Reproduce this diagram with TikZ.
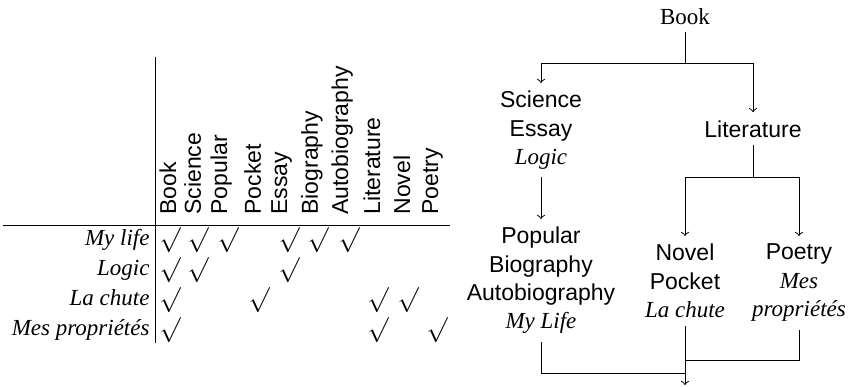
\documentclass[tikz,border=0pt]{standalone}
\usepackage{fontspec}
\setmainfont{Liberation Serif}
\setsansfont{Liberation Sans}
\begin{document}
\begin{tikzpicture}[x=0.4348pt,y=-0.4348pt,
  hdr/.style={rotate=90,anchor=base west,inner sep=0pt,font=\sffamily},
  rowlbl/.style={anchor=base east,inner sep=0pt,font=\itshape},
  chk/.style={inner sep=0pt,anchor=center,font=\fontsize{11}{11}\selectfont},
  tnode/.style={align=center,font=\sffamily\fontsize{10}{12.3}\selectfont},
  arr/.style={->}]
\useasboundingbox (0,0) rectangle (849,387);
% ---------- table ----------
\coordinate (vtop) at (155,57);
\coordinate (vbot) at (155,343);
\coordinate (hl) at (3,225);
\coordinate (hr) at (450,225);
\draw (vtop) -- (vbot);
\draw (hl) -- (hr);
\foreach \t/\x [count=\i] in {Book/176,Science/201,Popular/227,Pocket/261,Essay/287,Biography/318,Autobiography/348,Literature/380,Novel/410,Poetry/438}
  \node[hdr] (h\i) at (\x,215) {\t};
\foreach \t/\y [count=\i] in {My life/245,Logic/275,La chute/305,Mes propriétés/335}
  \node[rowlbl] (r\i) at (150,\y) {\t};
% check marks: row/col
\foreach \r/\c in {1/1,1/2,1/3,1/5,1/6,1/7,2/1,2/2,2/5,3/1,3/4,3/8,3/9,4/1,4/8,4/10}{
  \pgfmathsetmacro{\cx}{{170,198,228,259,289,318,349,378,408,437}[\c-1]}
  \pgfmathsetmacro{\cy}{{240.5,270,300,330}[\r-1]}
  \node[chk] (c\r-\c) at (\cx,\cy) {$\surd$};
}
% ---------- tree ----------
\node[font=\rmfamily,anchor=base] (book) at (685,24) {Book};
\node[tnode,anchor=north] (sci) at (541,83) {Science\\Essay\\{\rmfamily\itshape Logic}};
\node[tnode,anchor=base] (lit) at (753,137) {Literature};
\node[tnode,anchor=north] (pop) at (541,219) {Popular\\Biography\\Autobiography\\{\rmfamily\itshape My Life}};
\node[tnode,anchor=north] (nov) at (685,236) {Novel\\Pocket\\{\rmfamily\itshape La chute}};
\node[tnode,anchor=north] (poe) at (799,236) {Poetry\\{\rmfamily\itshape Mes}\\{\rmfamily\itshape propriétés}};
\coordinate (j1) at (685,63);
\coordinate (j2) at (753,177);
\coordinate (j3) at (685,373);
\coordinate (j4) at (685,360);
\coordinate (fin) at (685,385);
\draw (book) -- (j1);
\draw[arr] (j1) -| (sci);
\draw[arr] (j1) -| (lit);
\draw (lit) -- (j2);
\draw[arr] (j2) -| (nov);
\draw[arr] (j2) -| (poe);
\draw[arr] (sci) -- (pop);
\draw (pop) |- (j3);
\draw (poe) |- (j4);
\draw[arr] (nov) -- (fin);
\end{tikzpicture}
\end{document}
